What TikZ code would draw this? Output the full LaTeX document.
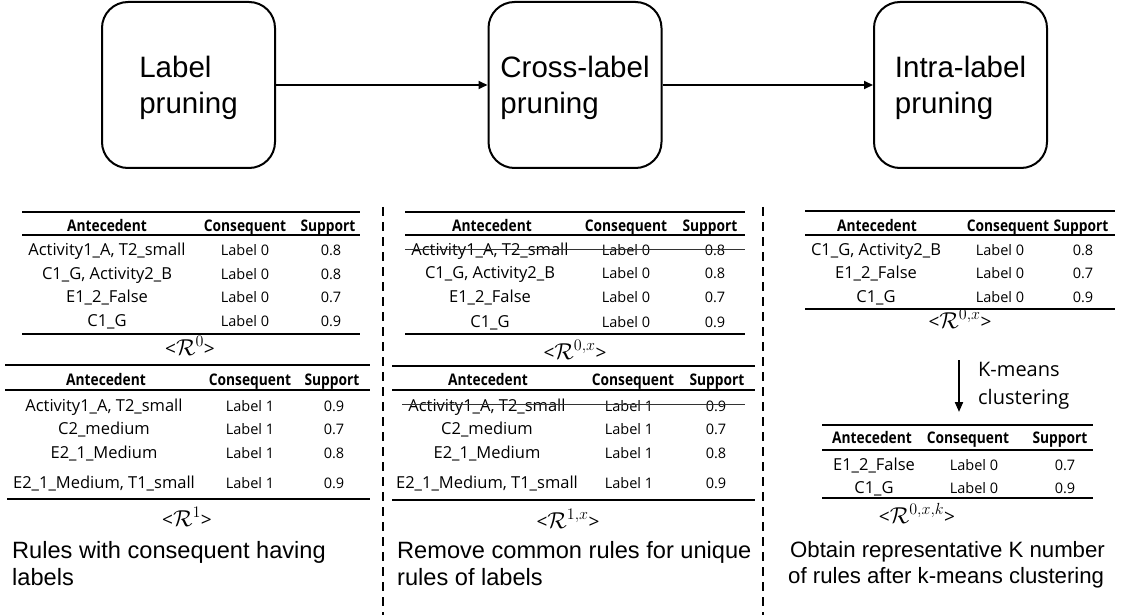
\RequirePackage{fix-cm}
\documentclass[tikz,border=0pt]{standalone}
\usepackage{fontspec}
\newfontfamily\tabfont{Open Sans}
\newfontfamily\hdfont{Open Sans}[FakeStretch=0.86]
\newfontfamily\arialfont{Liberation Sans}
\usetikzlibrary{arrows.meta}
\newcommand\rlab[1]{{\fontsize{19}{22}\selectfont <}{\fontsize{23}{26}\selectfont$\mathcal{R}^{#1}$}{\fontsize{19}{22}\selectfont >}}
\begin{document}
\begin{tikzpicture}[x=1pt,y=-1pt,
  stage/.style={draw,line width=2pt,rounded corners=26pt,minimum width=173pt,minimum height=166pt,align=left,inner sep=0pt,text height=64pt,font={\arialfont\fontsize{29.5}{36}\selectfont}},
  flow/.style={line width=2pt,-{Triangle[length=9pt,width=8pt]}},
  downflow/.style={line width=2pt,-{Triangle[length=10pt,width=8pt]}},
  hd/.style={anchor=base,inner sep=0pt,font={\hdfont\bfseries\fontsize{16}{18}\selectfont}},
  ant/.style={anchor=base,inner sep=0pt,font={\tabfont\fontsize{16.5}{19}\selectfont}},
  cell/.style={anchor=base,inner sep=0pt,font={\tabfont\fontsize{14.5}{17}\selectfont}},
  rname/.style={anchor=base,inner sep=0pt,font={\tabfont}},
  kmtext/.style={anchor=base west,inner sep=0pt,font={\tabfont\fontsize{20}{24}\selectfont}},
  caption/.style={anchor=base west,inner sep=0pt,font={\arialfont\fontsize{23.6}{27}\selectfont}},
  captionB/.style={anchor=base west,inner sep=0pt,font={\arialfont\fontsize{22.2}{26}\selectfont}},
  thick rule/.style={line width=1.8pt},
  thin rule/.style={line width=1.2pt},
  strike/.style={line width=0.9pt,black!80},
  divider/.style={line width=2.5pt,dash pattern=on 9pt off 6pt},
]
\useasboundingbox (0,0) rectangle (1136,615);

% ---- stages ----
\node[stage] (b1) at (188.5,85) {Label\\pruning};
\node[stage] (b2) at (575,85) {Cross-label\\pruning};
\node[stage] (b3) at (960.5,85) {Intra-label\\pruning};
\draw[flow] (b1.east) -- (b2.west);
\draw[flow] (b2.east) -- (b3.west);

% ---- dividers ----
\coordinate (d1t) at (383,207); \coordinate (d1b) at (383,615);
\coordinate (d2t) at (763,207); \coordinate (d2b) at (763,615);
\draw[divider] (d1t) -- (d1b);
\draw[divider] (d2t) -- (d2b);

% ---- Table A: R^0 ----
\draw[thick rule] (22,212) -- (360,212);
\draw[thin rule] (22,235) -- (360,235);
\draw[thick rule] (22,334) -- (360,334);
\node[hd] (ah1) at (107,231) {Antecedent};
\node[hd] (ah2) at (245,231) {Consequent};
\node[hd] (ah3) at (328,231) {Support};
\node[ant]  (a11) at (107,255) {Activity1\_A, T2\_small};
\node[cell] (a12) at (245,255) {Label 0};
\node[cell] (a13) at (331,255) {0.8};
\node[ant]  (a21) at (107,279) {C1\_G, Activity2\_B};
\node[cell] (a22) at (245,279) {Label 0};
\node[cell] (a23) at (331,279) {0.8};
\node[ant]  (a31) at (107,302) {E1\_2\_False};
\node[cell] (a32) at (245,302) {Label 0};
\node[cell] (a33) at (331,302) {0.7};
\node[ant]  (a41) at (107,326) {C1\_G};
\node[cell] (a42) at (245,326) {Label 0};
\node[cell] (a43) at (331,326) {0.9};
\node[rname] (aR) at (190,355) {\rlab{0}};

% ---- Table B: R^1 ----
\draw[thick rule] (5,365) -- (370,365);
\draw[thin rule] (5,390) -- (370,390);
\draw[thick rule] (7,499) -- (370,499);
\node[hd] (bh1) at (106,385) {Antecedent};
\node[hd] (bh2) at (250,385) {Consequent};
\node[hd] (bh3) at (332,385) {Support};
\node[ant]  (b11) at (104,411) {Activity1\_A, T2\_small};
\node[cell] (b12) at (250,411) {Label 1};
\node[cell] (b13) at (334,411) {0.9};
\node[ant]  (b21) at (104,434) {C2\_medium};
\node[cell] (b22) at (250,434) {Label 1};
\node[cell] (b23) at (334,434) {0.7};
\node[ant]  (b31) at (104,458) {E2\_1\_Medium};
\node[cell] (b32) at (250,458) {Label 1};
\node[cell] (b33) at (334,458) {0.8};
\node[ant]  (b41) at (104,488) {E2\_1\_Medium, T1\_small};
\node[cell] (b42) at (250,488) {Label 1};
\node[cell] (b43) at (334,488) {0.9};
\node[rname] (bR) at (187,526) {\rlab{1}};

% ---- Table C: R^{0,x} ----
\draw[thick rule] (405,212) -- (745,212);
\draw[thin rule] (405,235) -- (745,235);
\draw[thick rule] (405,334) -- (745,334);
\node[hd] (ch1) at (492,231) {Antecedent};
\node[hd] (ch2) at (626,231) {Consequent};
\node[hd] (ch3) at (710,231) {Support};
\node[ant]  (c11) at (490,255) {Activity1\_A, T2\_small};
\node[cell] (c12) at (626,255) {Label 0};
\node[cell] (c13) at (715,255) {0.8};
\draw[strike] (405,249) -- (745,249);
\node[ant]  (c21) at (490,278) {C1\_G, Activity2\_B};
\node[cell] (c22) at (626,278) {Label 0};
\node[cell] (c23) at (715,278) {0.8};
\node[ant]  (c31) at (490,302) {E1\_2\_False};
\node[cell] (c32) at (626,302) {Label 0};
\node[cell] (c33) at (715,302) {0.7};
\node[ant]  (c41) at (490,327) {C1\_G};
\node[cell] (c42) at (626,327) {Label 0};
\node[cell] (c43) at (715,327) {0.9};
\node[rname] (cR) at (575,359) {\rlab{0,x}};

% ---- Table D: R^{1,x} ----
\draw[thick rule] (392,366) -- (755,366);
\draw[thin rule] (392,390) -- (755,390);
\draw[thick rule] (392,500) -- (755,500);
\node[hd] (dh1) at (488,385) {Antecedent};
\node[hd] (dh2) at (633,385) {Consequent};
\node[hd] (dh3) at (717,385) {Support};
\node[ant]  (d11) at (487,411) {Activity1\_A, T2\_small};
\node[cell] (d12) at (629,411) {Label 1};
\node[cell] (d13) at (716,411) {0.9};
\draw[strike] (402,404) -- (745,404);
\node[ant]  (d21) at (487,434) {C2\_medium};
\node[cell] (d22) at (629,434) {Label 1};
\node[cell] (d23) at (716,434) {0.7};
\node[ant]  (d31) at (487,458) {E2\_1\_Medium};
\node[cell] (d32) at (629,458) {Label 1};
\node[cell] (d33) at (716,458) {0.8};
\node[ant]  (d41) at (487,488) {E2\_1\_Medium, T1\_small};
\node[cell] (d42) at (629,488) {Label 1};
\node[cell] (d43) at (716,488) {0.9};
\node[rname] (dR) at (568,528) {\rlab{1,x}};

% ---- Table E: R^{0,x} ----
\draw[thick rule] (805,211) -- (1115,211);
\draw[thin rule] (805,235) -- (1115,235);
\draw[thick rule] (805,309) -- (1115,309);
\node[hd] (eh1) at (877,231) {Antecedent};
\node[hd] (eh2) at (1008,231) {Consequent};
\node[hd] (eh3) at (1081,231) {Support};
\node[ant]  (e11) at (876,255) {C1\_G, Activity2\_B};
\node[cell] (e12) at (1000,255) {Label 0};
\node[cell] (e13) at (1083,255) {0.8};
\node[ant]  (e21) at (876,278) {E1\_2\_False};
\node[cell] (e22) at (1000,278) {Label 0};
\node[cell] (e23) at (1083,278) {0.7};
\node[ant]  (e31) at (876,302) {C1\_G};
\node[cell] (e32) at (1000,302) {Label 0};
\node[cell] (e33) at (1083,302) {0.9};
\node[rname] (eR) at (960,328) {\rlab{0,x}};

% ---- K-means arrow ----
\coordinate (ka) at (959,360);
\coordinate (kb) at (959,412);
\draw[downflow] (ka) -- (kb);
\node[kmtext] (km1) at (978,376) {K-means};
\node[kmtext] (km2) at (978,404) {clustering};

% ---- Table F: R^{0,x,k} ----
\draw[thick rule] (822,425) -- (1093,425);
\draw[thin rule] (822,450) -- (1093,450);
\draw[thick rule] (822,498) -- (1093,498);
\node[hd] (fh1) at (872,443) {Antecedent};
\node[hd] (fh2) at (968,443) {Consequent};
\node[hd] (fh3) at (1060,443) {Support};
\node[ant]  (f11) at (874,470) {E1\_2\_False};
\node[cell] (f12) at (974,470) {Label 0};
\node[cell] (f13) at (1065,470) {0.7};
\node[ant]  (f21) at (874,493) {C1\_G};
\node[cell] (f22) at (974,493) {Label 0};
\node[cell] (f23) at (1065,493) {0.9};
\node[rname] (fR) at (917,523) {\rlab{0,x,k}};

% ---- captions ----
\node[caption] (cap1a) at (12,558) {Rules with consequent having};
\node[caption] (cap1b) at (12,585) {labels};
\node[caption] (cap2a) at (397,558) {Remove common rules for unique};
\node[caption] (cap2b) at (397,585) {rules of labels};
\node[captionB] (cap3a) at (790,557) {Obtain representative K number};
\node[captionB] (cap3b) at (788,583) {of rules after k-means clustering};
\end{tikzpicture}
\end{document}
